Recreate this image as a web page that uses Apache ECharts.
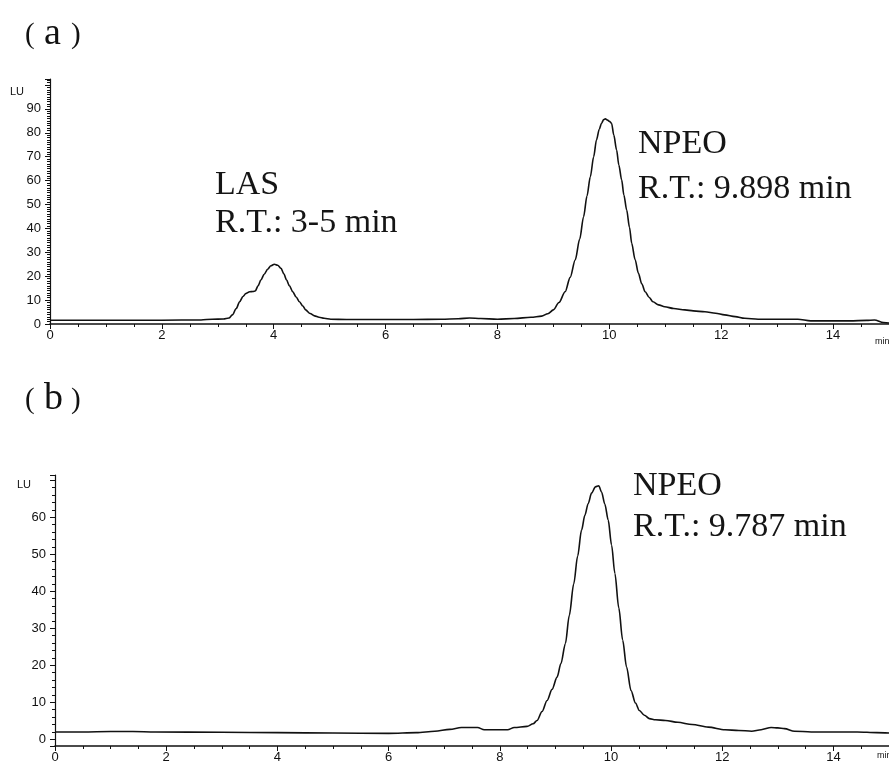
<!DOCTYPE html>
<html>
<head>
<meta charset="utf-8">
<script src="https://cdn.jsdelivr.net/npm/echarts@6/dist/echarts.min.js"></script>
<style>
html,body{margin:0;padding:0;background:#fff;}
#chart{width:889px;height:770px;}
</style>
</head>
<body>
<div id="chart"></div>
<script>
// Chromatogram (a)
const timeA = [0, 1, 2, 2.7, 2.9, 3.1, 3.2, 3.26, 3.33, 3.39, 3.45, 3.5, 3.57, 3.63, 3.67, 3.72, 3.77, 3.83, 3.89, 3.95, 4.01, 4.07, 4.13, 4.18, 4.23, 4.28, 4.34, 4.4, 4.46, 4.52, 4.57, 4.65, 4.73, 4.81, 4.9, 5.02, 5.3, 6, 6.5, 7, 7.3, 7.5, 7.7, 8.0, 8.3, 8.6, 8.79, 8.9, 9.0, 9.1, 9.21, 9.3, 9.39, 9.47, 9.54, 9.6, 9.66, 9.72, 9.77, 9.82, 9.86, 9.9, 9.93, 9.97, 10.0, 10.04, 10.08, 10.13, 10.17, 10.22, 10.26, 10.31, 10.36, 10.4, 10.46, 10.52, 10.58, 10.64, 10.71, 10.78, 10.88, 10.99, 11.15, 11.35, 11.5, 11.71, 11.9, 12.06, 12.25, 12.42, 12.66, 13.0, 13.37, 13.6, 14.0, 14.3, 14.6, 14.74, 14.9, 15];
const signalA = [1.6, 1.6, 1.6, 1.7, 2.0, 2.1, 2.5, 3.8, 6.5, 9.3, 11.5, 12.7, 13.5, 13.6, 13.8, 16, 18.4, 20.8, 22.9, 24.4, 25, 24.6, 23.3, 21, 18.4, 16, 13.5, 11.3, 9.3, 7.5, 5.9, 4.4, 3.4, 2.8, 2.4, 2.0, 1.9, 1.9, 1.9, 2.0, 2.2, 2.5, 2.3, 2.0, 2.3, 2.8, 3.3, 4.3, 5.9, 9, 13.5, 19.5, 26.8, 35.5, 44.9, 53.5, 61.6, 70, 77, 81.5, 84, 85.5, 85.8, 85.3, 84.8, 84, 79, 72.8, 66.5, 60.3, 54, 47.7, 40.5, 33.8, 27, 21.2, 16.8, 13.5, 11.2, 9.3, 8.0, 7.2, 6.5, 5.9, 5.5, 5.1, 4.5, 3.8, 3.1, 2.4, 2.0, 2.0, 2.0, 1.3, 1.3, 1.3, 1.5, 1.7, 0.6, 0.4];

// Chromatogram (b)
const timeB = [0, 0.5, 1.0, 1.4, 1.8, 3, 4, 5, 6, 6.5, 6.83, 7.1, 7.31, 7.6, 7.72, 8.0, 8.14, 8.26, 8.49, 8.6, 8.67, 8.76, 8.85, 8.94, 9.03, 9.1, 9.18, 9.25, 9.33, 9.4, 9.47, 9.53, 9.59, 9.65, 9.72, 9.78, 9.83, 9.89, 9.95, 10.01, 10.07, 10.14, 10.21, 10.28, 10.36, 10.44, 10.51, 10.6, 10.69, 10.8, 10.98, 11.2, 11.46, 11.75, 12.05, 12.3, 12.53, 12.7, 12.88, 13.0, 13.12, 13.3, 13.6, 13.83, 14.1, 14.43, 14.78, 15];
const signalB = [2.0, 2.0, 2.1, 2.1, 2.0, 1.9, 1.8, 1.7, 1.6, 1.8, 2.2, 2.7, 3.2, 3.2, 2.6, 2.6, 2.6, 3.2, 3.5, 4.2, 5.1, 7.5, 10.5, 13.5, 16.8, 20.5, 25.9, 33.5, 42, 49.5, 56.5, 60.5, 63.7, 66.5, 68.2, 68.5, 66.8, 63.5, 59.2, 52.5, 44.8, 35.5, 26.8, 19.5, 13.2, 9.8, 7.8, 6.5, 5.6, 5.3, 5.1, 4.6, 4.0, 3.3, 2.6, 2.4, 2.2, 2.6, 3.2, 3.1, 2.9, 2.2, 2.0, 2.0, 2.0, 2.0, 1.8, 1.7];

const xTickStep = 2;
const yTickStep = 10;
const yMaxLabelA = 90;
const yMaxLabelB = 60;

const annotations = [
  {text: 'LAS', x: 215, y: 185},
  {text: 'R.T.: 3-5 min', x: 215, y: 223},
  {text: 'NPEO', x: 638, y: 144},
  {text: 'R.T.: 9.898 min', x: 638, y: 189},
  {text: 'NPEO', x: 633, y: 486},
  {text: 'R.T.: 9.787 min', x: 633, y: 527}
];

const ink = '#111';
const axisFont = 'Liberation Sans';

function xAxisCfg(gridIndex) {
  return {
    type: 'value', gridIndex: gridIndex, min: 0, max: 15, interval: xTickStep,
    axisLine: {onZero: false, lineStyle: {color: ink, width: 1.5}},
    axisTick: {length: 5, lineStyle: {color: ink, width: 1}},
    minorTick: {show: true, splitNumber: 4, length: 3, lineStyle: {color: ink, width: 1}},
    axisLabel: {color: ink, fontSize: 13, fontFamily: axisFont, margin: 5, showMaxLabel: false},
    splitLine: {show: false}
  };
}
function yAxisCfg(gridIndex, min, max, maxLabel, minorSplit) {
  return {
    type: 'value', gridIndex: gridIndex, min: min, max: max, splitNumber: 7,
    axisLine: {show: true, lineStyle: {color: ink, width: 1.2}},
    axisTick: {length: 5, lineStyle: {color: ink, width: 1}},
    minorTick: {show: true, splitNumber: minorSplit, length: 3, lineStyle: {color: ink, width: 1}},
    axisLabel: {
      color: ink, fontSize: 13, fontFamily: axisFont, margin: 9,
      showMinLabel: min === 0, showMaxLabel: false,
      formatter: function (v) { return (Math.abs(v % yTickStep) < 1e-6 && v <= maxLabel && v >= 0) ? String(v) : ''; }
    },
    splitLine: {show: false}
  };
}

const graphics = [];
annotations.forEach(function (a) {
  graphics.push({type: 'text', style: {text: a.text, x: a.x, y: a.y, font: '34px "Liberation Serif"', fill: '#151515', align: 'left', verticalAlign: 'middle'}});
});
function panelLabel(letter, dy) {
  graphics.push({type: 'text', style: {text: '(', x: 25, y: 35 + dy, font: '29px "Liberation Serif"', fill: ink, align: 'left', verticalAlign: 'middle'}});
  graphics.push({type: 'text', style: {text: letter, x: 44, y: 34 + dy, font: '38px "Liberation Serif"', fill: ink, align: 'left', verticalAlign: 'middle'}});
  graphics.push({type: 'text', style: {text: ')', x: 71, y: 35 + dy, font: '29px "Liberation Serif"', fill: ink, align: 'left', verticalAlign: 'middle'}});
}
panelLabel('a', 0);
panelLabel('b', 365);
graphics.push({type: 'text', style: {text: 'LU', x: 10, y: 92, font: '11px "Liberation Sans"', fill: ink, align: 'left', verticalAlign: 'middle'}});
graphics.push({type: 'text', style: {text: 'LU', x: 17, y: 485, font: '11px "Liberation Sans"', fill: ink, align: 'left', verticalAlign: 'middle'}});
graphics.push({type: 'text', style: {text: 'min', x: 875, y: 342, font: '9px "Liberation Sans"', fill: ink, align: 'left', verticalAlign: 'middle'}});
graphics.push({type: 'text', style: {text: 'min', x: 877, y: 756, font: '9px "Liberation Sans"', fill: ink, align: 'left', verticalAlign: 'middle'}});

const chart = echarts.init(document.getElementById('chart'), null, {renderer: 'canvas'});
chart.setOption({
  animation: false,
  backgroundColor: '#fff',
  grid: [
    {left: 50, top: 79, width: 841, height: 245},
    {left: 55, top: 475, width: 843, height: 271}
  ],
  xAxis: [xAxisCfg(0), xAxisCfg(1)],
  yAxis: [yAxisCfg(0, 0, 102.5, yMaxLabelA, 10), yAxisCfg(1, -1.8, 71.4, yMaxLabelB, 5)],
  series: [
    {type: 'line', xAxisIndex: 0, yAxisIndex: 0, data: timeA.map(function (t, i) { return [t, signalA[i]]; }),
     showSymbol: false, smooth: 0.3, smoothMonotone: 'x', lineStyle: {color: ink, width: 1.6}, clip: true},
    {type: 'line', xAxisIndex: 1, yAxisIndex: 1, data: timeB.map(function (t, i) { return [t, signalB[i]]; }),
     showSymbol: false, smooth: 0.3, smoothMonotone: 'x', lineStyle: {color: ink, width: 1.6}, clip: true}
  ],
  graphic: graphics
});
</script>
</body>
</html>
